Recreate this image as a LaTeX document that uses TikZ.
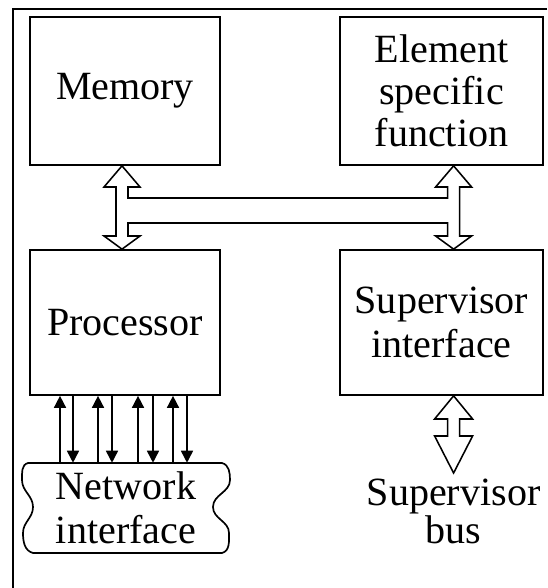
\documentclass[tikz,border=0pt]{standalone}
\usepackage{fontspec}
\setmainfont{Liberation Serif}
\usetikzlibrary{arrows.meta,positioning,calc}

\newcommand{\diagfont}{\fontsize{28.5}{29}\selectfont}

\begin{document}
\begin{tikzpicture}[
		box/.style={draw, line width=1.2pt, minimum width=4.75cm, minimum height=3.7cm,
				inner sep=2pt, align=center, font=\diagfont},
		wide/.style={minimum width=5.075cm},
		low/.style={minimum height=3.625cm},
		label/.style={align=center, font=\diagfont},
		bus/.style={draw, line width=1.1pt, line join=miter},
		wire/.style={-{Triangle[length=3mm, width=3mm]}, line width=1.1pt},
		frame/.style={line width=1.6pt}]

		\useasboundingbox (0,0) rectangle (13.675,-14.7);

		% ── surrounding frame (runs off the page) ──
		\draw[frame] (13.675,-0.225) -- (0.325,-0.225) -- (0.325,-14.7);

		% ── blocks ──
		\node[box] (mem) at (3.125,-2.275) {Memory};
		\node[box, wide] (esf) at (11.0375,-2.275) {Element\\[1pt]specific\\[1pt]function};
		\node[box, low] (proc) at (3.125,-8.0625) {Processor};
		\node[box, wide, low] (supif) at (11.0375,-8.0625) {Supervisor\\[2pt]interface};

		% ── network interface, wavy sides ──
		\node[label, minimum width=5.2cm, minimum height=2.25cm] (net) at (3.15,-12.7) {Network\\[2pt]interface};
		\draw[line width=1.2pt, shift={(net.center)}]
			(-2.45,1.125) -- (2.4,1.125)
			to[out=-15,in=90] (2.6,0.7) to[out=-90,in=90] (2.175,0.025)
			to[out=-90,in=90] (2.575,-0.625) to[out=-90,in=15] (2.4,-1.125)
			-- (-2.325,-1.125)
			to[out=165,in=-90] (-2.575,-0.625) to[out=90,in=-90] (-2.325,0.025)
			to[out=90,in=-90] (-2.6,0.7) to[out=90,in=-165] (-2.45,1.125) -- cycle;

		% ── supervisor bus label ──
		\node[label, anchor=north, inner sep=0.15cm] (supbus) at (11.34,-11.825) {Supervisor\\[-2pt]bus};

		% ── internal bus (hollow double arrows) ──
		\coordinate (bl) at (3.05,0);
		\coordinate (br) at (11.34,0);
		\draw[bus] (mem.south -| bl) -- (3.5,-4.675) -- (3.2,-4.675) -- (3.2,-4.95)
			-- (11.19,-4.95) -- (11.19,-4.675) -- (10.89,-4.675)
			-- (esf.south -| br) -- (11.79,-4.675) -- (11.49,-4.675) -- (11.49,-5.9) -- (11.79,-5.9)
			-- (supif.north -| br) -- (10.89,-5.9) -- (11.19,-5.9) -- (11.19,-5.575)
			-- (3.2,-5.575) -- (3.2,-5.9) -- (3.5,-5.9)
			-- (proc.north -| bl) -- (2.6,-5.9) -- (2.9,-5.9) -- (2.9,-4.675) -- (2.6,-4.675) -- cycle;

		% ── supervisor interface to bus ──
		\draw[bus] (supif.south -| br) -- (11.815,-10.475) -- (11.49,-10.475) -- (11.49,-10.9)
			-- (11.815,-10.9) -- (supbus.north) -- (10.865,-10.9) -- (11.19,-10.9)
			-- (11.19,-10.475) -- (10.865,-10.475) -- cycle;

		% ── processor <-> network interface lines ──
		\foreach \x in {1.5,2.45,3.45,4.325}
			\draw[wire] (\x,0 |- net.north) -- (\x,0 |- proc.south);
		\foreach \x in {1.825,2.8,3.825,4.675}
			\draw[wire] (\x,0 |- proc.south) -- (\x,0 |- net.north);

	\end{tikzpicture}
\end{document}
